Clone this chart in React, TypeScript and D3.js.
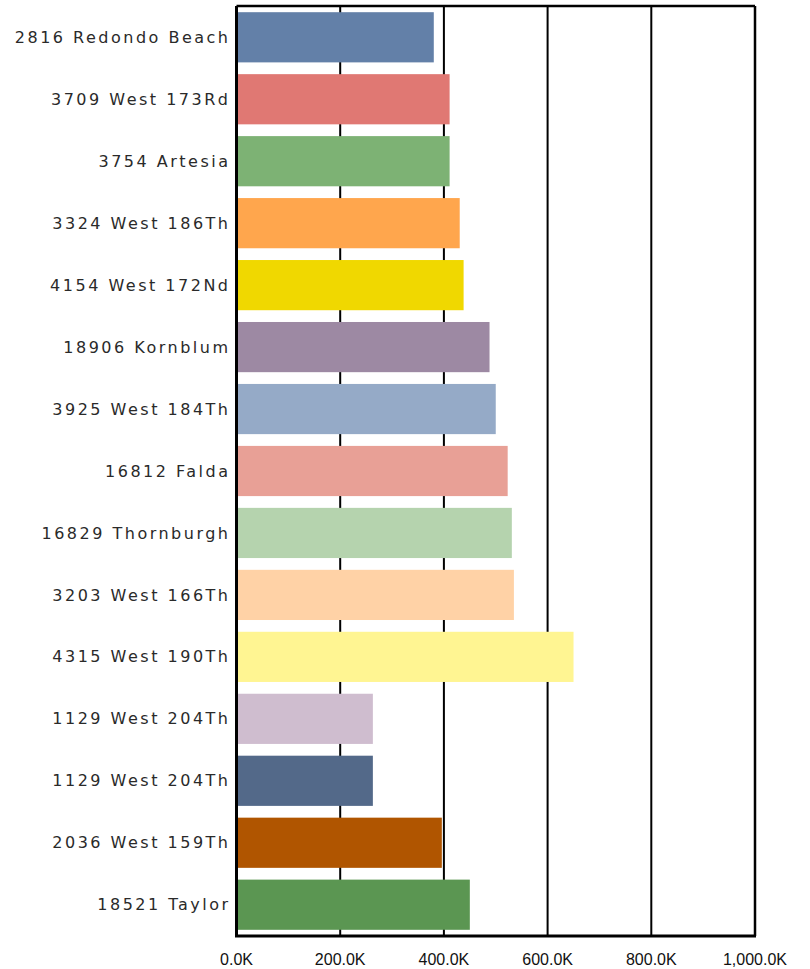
import * as d3 from 'd3'

const addresses = [
  '2816 Redondo Beach',
  '3709 West 173Rd',
  '3754 Artesia',
  '3324 West 186Th',
  '4154 West 172Nd',
  '18906 Kornblum',
  '3925 West 184Th',
  '16812 Falda',
  '16829 Thornburgh',
  '3203 West 166Th',
  '4315 West 190Th',
  '1129 West 204Th',
  '1129 West 204Th',
  '2036 West 159Th',
  '18521 Taylor',
]
const prices = [
  380500, 411000, 411000, 430500, 438000, 488000, 500000, 523000, 531000,
  535000, 650000, 263000, 263000, 396000, 450000,
]
const barColors = [
  '#6380a8', '#e07873', '#7db274', '#ffa64d', '#f0d800', '#9d89a3', '#95aac7',
  '#e8a096', '#b5d3ae', '#ffd2a6', '#fff592', '#cfbdcf', '#536989', '#b05500',
  '#5b9652',
]
const tickValues = [0, 200000, 400000, 600000, 800000, 1000000]

export default function App() {
  const width = 810
  const height = 969
  const marginLeft = 236.5
  const marginRight = 55
  const marginTop = 6
  const marginBottom = 33

  const x = d3.scaleLinear([0, 1000000], [marginLeft, width - marginRight])
  const y = d3
    .scaleBand(d3.range(addresses.length).map(String), [marginTop, height - marginBottom])
    .paddingInner(0.19)
    .paddingOuter(0.1)

  const fmt = (v: number) => d3.format(',.1f')(v / 1000) + 'K'

  return (
    <svg
      width={width}
      height={height}
      style={{ position: 'absolute', left: 0, top: 0, background: '#fff' }}
    >
      {/* grid */}
      {tickValues.slice(1, -1).map((t) => (
        <line
          key={t}
          x1={x(t)}
          x2={x(t)}
          y1={marginTop}
          y2={height - marginBottom}
          stroke="#000"
          strokeWidth={2}
        />
      ))}
      {/* bars */}
      {prices.map((p, i) => (
        <rect
          key={i}
          x={x(0)}
          y={y(String(i))}
          width={x(p) - x(0)}
          height={y.bandwidth()}
          fill={barColors[i]}
        />
      ))}
      {/* frame */}
      <line x1={x(0)} x2={x(1000000)} y1={marginTop} y2={marginTop} stroke="#000" strokeWidth={2.5} />
      <line x1={x(1000000)} x2={x(1000000)} y1={marginTop} y2={height - marginBottom} stroke="#000" strokeWidth={2.5} />
      <line x1={x(0)} x2={x(0)} y1={marginTop} y2={height - marginBottom} stroke="#000" strokeWidth={3} />
      <line x1={x(0) - 1.5} x2={x(1000000) + 1} y1={height - marginBottom} y2={height - marginBottom} stroke="#000" strokeWidth={3} />
      {/* x tick labels */}
      {tickValues.map((t) => (
        <text
          key={t}
          x={x(t)}
          y={965}
          textAnchor="middle"
          fontFamily="Liberation Sans, Arial, sans-serif"
          fontSize={16}
          fill="#111"
        >
          {fmt(t)}
        </text>
      ))}
      {/* category labels */}
      {addresses.map((a, i) => (
        <text
          key={i}
          x={marginLeft - 6}
          y={(y(String(i)) as number) + y.bandwidth() / 2}
          dy="0.35em"
          textAnchor="end"
          fontFamily="DejaVu Sans, Verdana, sans-serif"
          fontSize={16}
          letterSpacing={2.5}
          fill="#2a2a2a"
        >
          {a}
        </text>
      ))}
    </svg>
  )
}
